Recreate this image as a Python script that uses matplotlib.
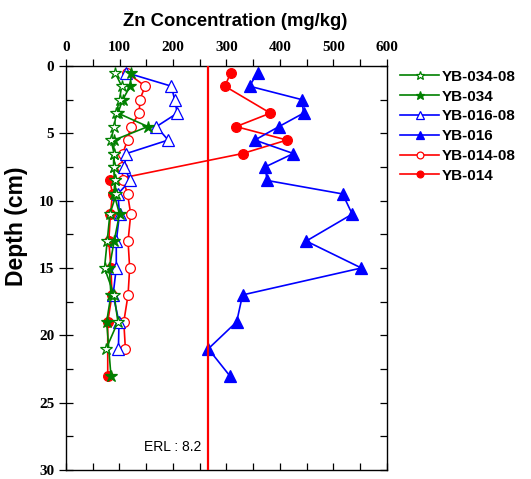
import matplotlib
matplotlib.use("Agg")
import matplotlib.pyplot as plt
from matplotlib.ticker import MultipleLocator

# Zn concentration (mg/kg) by depth (cm) for each core
depth_08 = [0.5, 1.5, 2.5, 3.5, 4.5, 5.5, 6.5, 7.5, 8.5, 9.5, 11, 13, 15, 17, 19, 21]
depth_cur = [0.5, 1.5, 2.5, 3.5, 4.5, 5.5, 6.5, 7.5, 8.5, 9.5, 11, 13, 15, 17, 19, 21, 23]

yb034_08 = [92, 104, 100, 94, 90, 84, 90, 90, 91, 94, 82, 77, 72, 90, 97, 75]
yb034_depth = [0.5, 1.5, 2.5, 3.5, 4.5, 5.5, 6.5, 7.5, 8.5, 9.5, 11, 13, 15, 17, 19, 23]
yb034 = [122, 120, 106, 97, 153, 90, 89, 89, 91, 90, 100, 90, 81, 84, 76, 84]

yb016_08 = [113, 197, 203, 208, 169, 191, 113, 109, 120, 97, 100, 94, 94, 88, 99, 98]
yb016 = [358, 343, 441, 444, 398, 353, 425, 372, 376, 517, 535, 449, 552, 330, 319, 266, 306]

yb014_08 = [114, 148, 138, 137, 121, 115, 106, 104, 107, 115, 121, 116, 119, 116, 108, 111]
yb014_depth = [0.5, 1.5, 3.5, 4.5, 5.5, 6.5, 8.5, 9.5, 11, 13, 15, 17, 19, 23]
yb014 = [308, 297, 382, 318, 413, 330, 82, 87, 83, 80, 84, 86, 78, 78]

erl_value = 265
erl_label = "ERL : 8.2"

series = [
    ("YB-034-08", yb034_08, depth_08, "#008000", "*", "white", 9),
    ("YB-034", yb034, yb034_depth, "#008000", "*", "#008000", 9),
    ("YB-016-08", yb016_08, depth_08, "#0000ff", "^", "white", 8),
    ("YB-016", yb016, depth_cur, "#0000ff", "^", "#0000ff", 8),
    ("YB-014-08", yb014_08, depth_08, "#ff0000", "o", "white", 7),
    ("YB-014", yb014, yb014_depth, "#ff0000", "o", "#ff0000", 7),
]

fig = plt.figure(figsize=(5.31, 4.79), dpi=100)
ax = fig.add_axes([66 / 531, 1 - 470 / 479, (387 - 66) / 531, (470 - 66) / 479])

handles = {}
for name, vals, dep, col, mk, mfc, ms in reversed(series):
    ln, = ax.plot(vals, dep, color=col, lw=1.2, marker=mk, ms=ms,
                  mfc=mfc, mec=col, mew=0.9, label=name)
    handles[name] = ln

ax.axvline(erl_value, color="#ff0000", lw=1.6, zorder=5)
ax.text(erl_value - 12, 28.3, erl_label, ha="right", va="center",
        fontsize=10, family="Liberation Sans")

ax.set_xlim(0, 600)
ax.set_ylim(30, 0)

# top axis: labelled, outward ticks every 50
ax.xaxis.set_label_position("top")
ax.xaxis.tick_top()
ax.xaxis.set_major_locator(MultipleLocator(100))
ax.xaxis.set_minor_locator(MultipleLocator(50))
ax.tick_params(axis="x", which="both", direction="out", top=True, bottom=False,
               length=5, width=0.9)
for lbl in ax.get_xticklabels():
    lbl.set_family("Liberation Serif")
    lbl.set_fontweight("bold")
    lbl.set_fontsize(11)

# bottom edge: inward ticks every 50
sec = ax.secondary_xaxis("bottom")
sec.xaxis.set_major_locator(MultipleLocator(50))
sec.tick_params(direction="in", length=5, width=0.9, labelbottom=False)
sec.spines["bottom"].set_visible(False)

# depth axis: outward labelled ticks every 5, inward ticks every 2.5 on both sides
ax.yaxis.set_major_locator(MultipleLocator(5))
ax.yaxis.set_minor_locator(MultipleLocator(2.5))
ax.yaxis.remove_overlapping_locs = False
ax.tick_params(axis="y", which="major", direction="out", left=True, right=False,
               length=5, width=0.9)
ax.tick_params(axis="y", which="minor", direction="in", left=True, right=True,
               length=5, width=0.9)
for lbl in ax.get_yticklabels():
    lbl.set_family("Liberation Serif")
    lbl.set_fontweight("bold")
    lbl.set_fontsize(11)

for sp in ax.spines.values():
    sp.set_linewidth(1.0)

fig.text(235 / 531, 1 - 22 / 479, "Zn Concentration (mg/kg)", ha="center", va="center",
         fontsize=13.3, fontweight="bold", family="Liberation Sans")
fig.text(17 / 531, 1 - 226 / 479, "Depth (cm)", ha="center", va="center", rotation=90,
         fontsize=16.5, fontweight="bold", family="Liberation Sans")

leg_handles = [handles[s[0]] for s in series]
leg = fig.legend(leg_handles, [s[0] for s in series], loc="upper left",
                 bbox_to_anchor=(386 / 531, 1 - 56 / 479), frameon=False,
                 prop={"family": "Liberation Sans", "weight": "bold", "size": 11},
                 handlelength=2.6, labelspacing=0.38, handletextpad=0.15,
                 markerscale=0.7)

fig.savefig("out.png", dpi=100)
